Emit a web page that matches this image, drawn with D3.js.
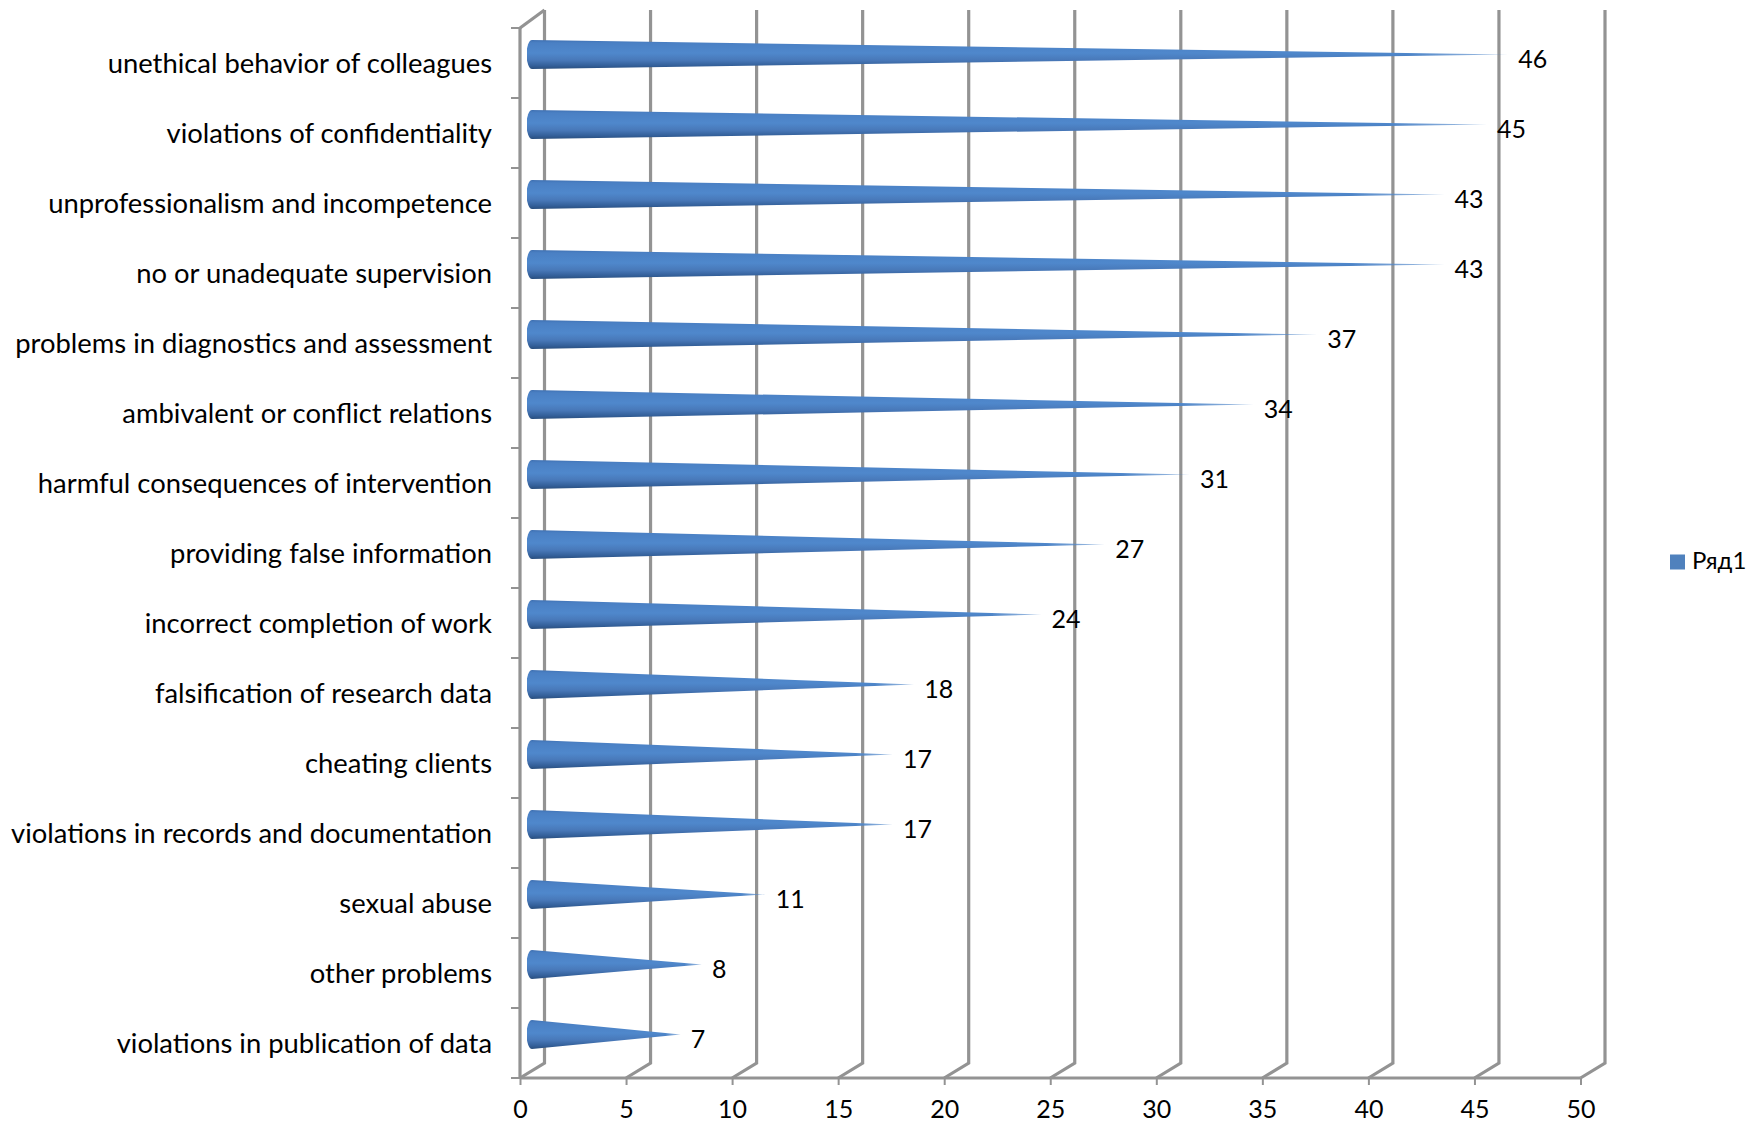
<!DOCTYPE html>
<html><head><meta charset="utf-8">
<script src="https://cdnjs.cloudflare.com/ajax/libs/d3/7.8.5/d3.min.js"></script>
<style>
html,body{margin:0;padding:0;background:#fff}
svg{display:block}
text{font-family:Lato,"Open Sans",sans-serif;fill:#000}
</style></head><body>
<div id="chart"></div>
<script>
const categories = [
 "unethical behavior of colleagues","violations of confidentiality","unprofessionalism and incompetence",
 "no or unadequate supervision","problems in diagnostics and assessment","ambivalent or conflict relations",
 "harmful consequences of intervention","providing false information","incorrect completion of work",
 "falsification of research data","cheating clients","violations in records and documentation",
 "sexual abuse","other problems","violations in publication of data"];
const values = [46,45,43,43,37,34,31,27,24,18,17,17,11,8,7];
const xTicks = [0,5,10,15,20,25,30,35,40,45,50];
const seriesName = "Ряд1";

const W=1762,H=1124, plotLeft=520, plotRight=1580.5, plotTop=28, plotBottom=1078, depthX=24.5, depthY=15;
const gridColor="#939393";
const svg=d3.select("#chart").append("svg").attr("width",W).attr("height",H).attr("viewBox",`0 0 ${W} ${H}`);
const x=d3.scaleLinear().domain([0,50]).range([plotLeft,plotRight]);
const y=d3.scaleBand().domain(categories).range([plotTop,plotBottom]);

const defs=svg.append("defs");
const grad=defs.append("linearGradient").attr("id","cone").attr("x1",0).attr("x2",0).attr("y1",0).attr("y2",1);
[[0,"#3f70b2"],[0.1,"#4a80c4"],[0.45,"#4f88cc"],[0.7,"#4878b8"],[0.88,"#34609a"],[1,"#2a4f7e"]]
 .forEach(([o,c])=>grad.append("stop").attr("offset",o).attr("stop-color",c));
const fade=defs.append("linearGradient").attr("id","fade").attr("x1",0).attr("x2",1).attr("y1",0).attr("y2",0);
[[0,"#fff"],[0.9,"#fff"],[1,"#777"]].forEach(([o,c])=>fade.append("stop").attr("offset",o).attr("stop-color",c));
defs.append("mask").attr("id","tipFade").attr("maskContentUnits","objectBoundingBox")
 .attr("x",0).attr("y",-0.1).attr("width",1).attr("height",1.2)
 .append("rect").attr("x",0).attr("y",-0.1).attr("width",1).attr("height",1.2).attr("fill","url(#fade)");

// walls
const g=svg.append("g").attr("fill","none").attr("stroke",gridColor);
g.selectAll("path.wall").data(xTicks).join("path").attr("class","wall").attr("stroke-width",3.2)
 .attr("d",d=>`M${x(d)},${plotBottom}L${x(d)+depthX},${plotBottom-depthY}V10`);
g.append("path").attr("stroke-width",3.2).attr("d",`M${plotLeft},${plotTop}L${plotLeft+depthX},10`);

// axes
const ax=svg.append("g").attr("transform",`translate(0,${plotBottom})`)
 .call(d3.axisBottom(x).tickValues(xTicks).tickSize(7).tickPadding(15.5).tickFormat(d3.format("d")));
ax.select(".domain").attr("stroke",gridColor).attr("stroke-width",3.2).attr("d",`M${plotLeft},0H${plotRight}`);
ax.selectAll("line").attr("stroke",gridColor).attr("stroke-width",2);
ax.selectAll("text").attr("font-size",25).attr("fill","#000").style("font-family","Lato");

const ay=svg.append("g").attr("transform",`translate(${plotLeft},0)`)
 .call(d3.axisLeft(y).tickSize(0).tickPadding(28));
ay.select(".domain").attr("stroke",gridColor).attr("stroke-width",3.2).attr("d",`M0,${plotTop}V${plotBottom}`);
ay.selectAll("text").attr("font-size",27.4).attr("fill","#000").attr("dy",9.5).style("font-family","Lato");
ay.selectAll("line.edge").data(d3.range(categories.length+1)).join("line").attr("class","edge")
 .attr("x1",-9).attr("x2",0).attr("y1",i=>plotTop+i*y.step()).attr("y2",i=>plotTop+i*y.step())
 .attr("stroke",gridColor).attr("stroke-width",2);

// cones
const rows=categories.map((c,i)=>({c,v:values[i]}));
const baseX=plotLeft+12, rBaseY=14.5, rBaseX=5.5;
const cy=d=>y(d.c)+y.bandwidth()/2-depthY/2-1;
const tipX=d=>x(d.v)+depthX/2;
svg.append("g").selectAll("path").data(rows).join("path")
 .attr("fill","url(#cone)").attr("mask","url(#tipFade)")
 .attr("d",d=>`M${tipX(d)},${cy(d)}L${baseX},${cy(d)-rBaseY}A${rBaseX},${rBaseY} 0 0 0 ${baseX},${cy(d)+rBaseY}Z`);

// value labels
svg.append("g").selectAll("text").data(rows).join("text")
 .attr("text-anchor","middle").attr("font-size",25)
 .attr("x",d=>x(d.v)+(d.v<10?29.5:37))
 .attr("y",d=>cy(d)+13.5).text(d=>d.v);

// legend
const lg=svg.append("g");
lg.append("rect").attr("x",1670).attr("y",554.5).attr("width",15).attr("height",15).attr("fill","#4f81bd");
lg.append("text").attr("x",1692).attr("y",568.5).attr("font-size",24).text(seriesName);
</script></body></html>
